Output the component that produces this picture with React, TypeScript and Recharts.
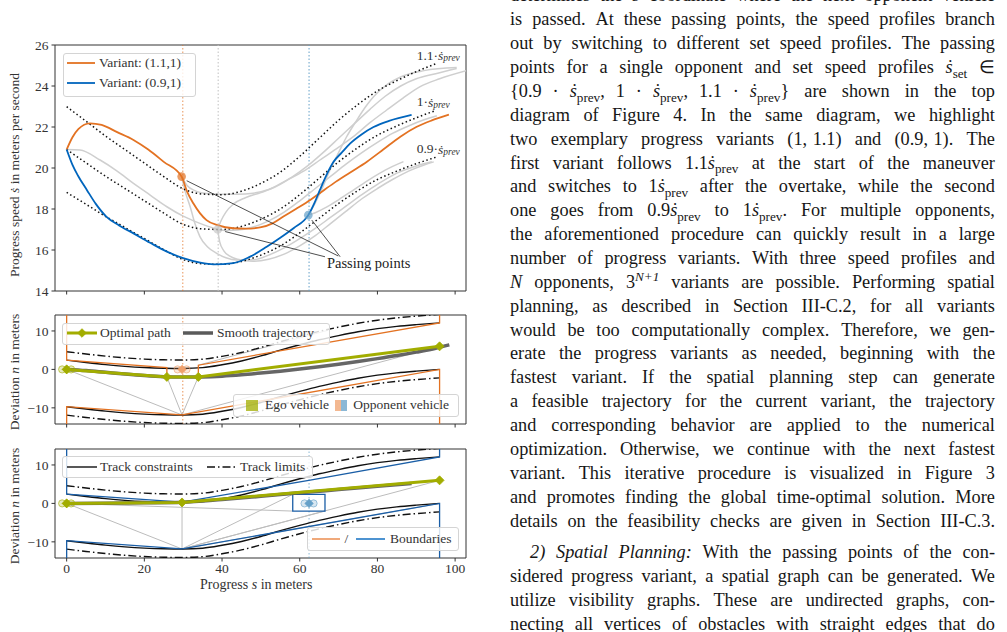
import React from 'react'
import { ComposedChart, Line, Scatter, XAxis, YAxis, ReferenceArea, ReferenceLine, ReferenceDot } from 'recharts'

const SERIF = '"Liberation Serif", "Times New Roman", serif'
const INK = '#333333'
const ORANGE = '#E37222'
const LIGHT_ORANGE = '#EFA06C'
const BLUE = '#0065BD'
const LIGHT_BLUE = '#64A0C8'
const OLIVE = '#A2AD00'
const CURVE_GRAY = '#cfcfcf'
const GRAPH_GRAY = '#bcbcbc'

// ---- top diagram: set speed profiles over progress ----
const PROFILE_S = [0, 5, 10, 15, 20, 25, 30, 35, 40, 45, 50, 55, 60, 65, 70, 75, 80, 85, 90, 95]
const PROFILE_11 = [22.99, 22.28, 21.56, 20.9, 20.24, 19.58, 18.98, 18.73, 18.7, 18.87, 19.25, 19.8, 20.57, 21.45, 22.33, 23.1, 23.76, 24.26, 24.7, 25.08]
const PROFILE_10 = [20.9, 20.25, 19.6, 19.0, 18.4, 17.8, 17.25, 17.03, 17.0, 17.15, 17.5, 18.0, 18.7, 19.5, 20.3, 21.0, 21.6, 22.05, 22.45, 22.8]
const PROFILE_09 = [18.81, 18.23, 17.64, 17.1, 16.56, 16.02, 15.53, 15.33, 15.3, 15.44, 15.75, 16.2, 16.83, 17.55, 18.27, 18.9, 19.44, 19.85, 20.21, 20.52]

const VARIANT_11_1 = [[0, 20.9], [1.5, 21.5], [3, 21.9], [6, 22.18], [9, 22.1], [13, 21.75], [17.2, 21.37], [21, 20.9], [25, 20.3], [29.6, 19.58], [31, 18.85], [32.6, 18.28], [34.3, 17.8], [36, 17.46], [39, 17.2], [42.9, 17.06], [46, 17.04], [49.8, 17.1], [53, 17.3], [55.8, 17.63], [59, 18.0], [62.7, 18.44], [65.5, 18.82], [68.7, 19.25], [73, 19.78], [77.3, 20.31], [81.5, 20.9], [85.9, 21.53], [90, 22.0], [94, 22.32], [98.4, 22.6]]
const VARIANT_09_1 = [[0, 20.9], [1.5, 20.15], [3, 19.6], [5.2, 18.93], [7.5, 18.25], [10.2, 17.63], [13.5, 17.2], [17.2, 16.81], [21.5, 16.35], [25.8, 15.92], [30, 15.6], [34.4, 15.38], [37.8, 15.3], [42.9, 15.36], [47, 15.65], [51.5, 16.16], [55, 16.6], [58.4, 17.06], [62.2, 17.7], [63.8, 18.3], [65.2, 18.93], [67, 19.7], [68.7, 20.3], [70.8, 20.75], [73, 21.2], [76, 21.65], [79, 22.0], [83, 22.3], [88.8, 22.59]]

// remaining progress variants (drawn in light gray)
const OTHER_VARIANTS = [
  [[0, 20.9], [3.4, 20.88], [8.6, 20.39], [13, 19.85], [17.2, 19.25], [21.5, 18.68], [25.8, 18.11], [30, 17.65], [34.3, 17.3], [38.9, 17.0]],
  [[29.6, 19.58], [31, 19.15], [33, 18.9], [36, 18.76], [40, 18.72], [44, 18.72], [48, 18.77], [52, 18.95], [56.7, 19.41], [61, 19.85], [65.2, 20.39], [69.5, 20.95], [73.8, 21.53], [78, 22.2], [82.4, 22.83], [86.5, 23.4], [91, 23.97], [96, 24.35], [103, 24.75]],
  [[29.6, 19.58], [30.6, 18.8], [31.8, 18.11], [33, 17.3], [34.3, 16.65], [36.3, 16.15], [38.6, 15.84], [41, 15.62], [43.8, 15.51], [48, 15.52], [52, 15.75], [56, 16.1], [60, 16.55], [64, 17.05], [68, 17.6], [72, 18.15], [76, 18.7], [80, 19.2], [85, 19.75], [90, 20.1], [94, 20.3]],
  [[38.9, 17.0], [39.8, 17.45], [41, 17.85], [43, 18.25], [46, 18.55], [50, 18.8], [54, 19.1], [58, 19.55], [62, 20.1], [66, 20.75], [70, 21.45], [74, 22.15], [78, 22.85], [82, 23.5], [86, 24.0], [90, 24.35], [95, 24.6], [100.4, 24.85]],
  [[38.9, 17.0], [41, 16.95], [44, 16.97], [48, 17.12], [52, 17.42], [56, 17.85], [60, 18.4], [64, 19.0], [68, 19.6], [72, 20.2], [76, 20.75], [80, 21.25], [84, 21.7], [88, 22.05], [92, 22.35], [95.3, 22.55]],
  [[38.9, 17.0], [39.4, 16.4], [40.5, 15.95], [42, 15.7], [44, 15.55], [48, 15.45], [52, 15.55], [56, 15.8], [60, 16.2], [64, 16.7], [68, 17.3], [72, 17.9], [76, 18.5], [80, 19.0], [84, 19.45], [88, 19.85], [92, 20.15], [94.5, 20.3]],
  [[62.2, 17.7], [64, 18.3], [66, 19.1], [67.8, 19.9], [70, 20.75], [72, 21.5], [74.7, 22.34], [77, 23.0], [79, 23.48], [82, 24.0], [86.7, 24.5], [92, 24.75], [100.4, 24.9]],
  [[62.2, 17.7], [64, 17.82], [67, 18.1], [70, 18.45], [74, 18.95], [78, 19.45], [82, 19.9], [86.7, 20.31]],
]

const PASSING_POINTS = [
  { s: 29.6, y: 19.58, color: ORANGE },
  { s: 38.9, y: 17.0, color: '#c8c8c8' },
  { s: 62.2, y: 17.7, color: LIGHT_BLUE },
]
const PASSING_S = [29.9, 39.0, 62.4]
const POINTER_LINES = [[30.9, 19.38, 69.9, 15.71], [40.8, 16.9, 66.5, 15.67], [63.1, 17.46, 70.4, 15.67]]

// ---- lower diagrams: track in curvilinear coordinates ----
const TRACK_S = [0, 5, 10, 15, 20, 25, 30, 35, 40, 45, 50, 55, 60, 65, 70, 75, 80, 85, 90, 96]
const CONSTRAINT_LEFT = [2.4, 1.8, 1.25, 0.8, 0.48, 0.3, 0.25, 0.45, 1.2, 2.2, 3.5, 5.0, 6.4, 7.7, 8.8, 9.8, 10.6, 11.2, 11.65, 12.1]
const CONSTRAINT_RIGHT = [-9.7, -10.3, -10.85, -11.3, -11.62, -11.8, -11.85, -11.65, -10.9, -9.9, -8.6, -7.1, -5.7, -4.4, -3.3, -2.3, -1.5, -0.9, -0.45, 0.0]
const LIMIT_LEFT = [4.6, 4.0, 3.45, 3.0, 2.68, 2.5, 2.45, 2.65, 3.4, 4.4, 5.7, 7.2, 8.6, 9.9, 11.0, 12.0, 12.8, 13.4, 13.85, 14.3]
const LIMIT_RIGHT = [-11.9, -12.5, -13.05, -13.5, -13.82, -14.0, -14.05, -13.85, -13.1, -12.1, -10.8, -9.3, -7.9, -6.6, -5.5, -4.5, -3.7, -3.1, -2.65, -2.2]

const OVERTAKE_BOUND_LEFT = [[0, 14.15], [0, 2.4], [25.8, 0.5], [25.8, -1.95], [33.9, -1.95], [33.9, 1.1], [96, 12.1], [96, 14.15]]
const OVERTAKE_BOUND_RIGHT = [[0, -14.2], [0, -9.7], [29.7, -11.85], [96, 0], [96, -14.2]]
const OVERTAKE_PATH = [[0, 0], [25.8, -1.95], [33.9, -1.95], [96, 6.0]]
const OVERTAKE_SMOOTH = [[0, 0], [5, -0.3], [10, -0.75], [15, -1.2], [20, -1.6], [25, -1.9], [30, -2.0], [35, -1.95], [40, -1.75], [45, -1.4], [50, -0.95], [55, -0.45], [60, 0.1], [65, 0.7], [70, 1.35], [75, 2.05], [80, 2.8], [85, 3.6], [90, 4.5], [95, 5.5], [98.5, 6.4]]
const OVERTAKE_GRAPH = [[0, 0, 29.7, -11.85], [25.8, -1.95, 29.7, -11.85], [33.9, -1.95, 29.7, -11.85], [29.7, -11.85, 96, 6.0], [33.9, 1.1, 67.4, 10.2]]

const FOLLOW_BOUND_LEFT = [[0, 14.15], [0, 2.4], [29.7, 0.35], [62.7, 6.05], [96, 12.1], [96, 14.15]]
const FOLLOW_BOUND_RIGHT = [[0, -14.2], [0, -9.7], [29.7, -11.85], [96, 0], [96, -14.2]]
const FOLLOW_OBSTACLE = [[58.2, 2.34], [66.5, 2.34], [66.5, -2.0], [58.2, -2.0], [58.2, 2.34]]
const FOLLOW_PATH = [[0, 0], [29.7, 0.25], [96, 6.0]]
const FOLLOW_SMOOTH = [[0, 0], [10, 0.05], [20, 0.15], [29.7, 0.3], [40, 1.0], [50, 1.85], [60, 2.75], [70, 3.6], [80, 4.45], [88.8, 5.2]]
const FOLLOW_GRAPH = [[0, 0, 29.7, -11.85], [29.7, 0.3, 29.7, -11.85], [0, 0, 58.2, -2.0], [29.7, -11.85, 58.2, 2.34], [29.7, -11.85, 66.5, -2.0], [29.7, -11.85, 96, 6.0], [29.7, -11.85, 96, 0], [29.7, 0.3, 58.2, 2.34]]

const S_TICKS = [0, 20, 40, 60, 80, 100]
const SPEED_TICKS = [14, 16, 18, 20, 22, 24, 26]
const N_TICKS = [-10, 0, 10]
const S_DOMAIN: [number, number] = [-3.0, 102.8]
const SPEED_DOMAIN: [number, number] = [14, 26]
const N_DOMAIN: [number, number] = [-14.2, 14.15]

// ---- body text of the right column ----
// "~" is a fixed math space, "*x*" italic, "$x$" math italic, "ṡ_x" dotted s with subscript, "^{x}" superscript
const TEXT_LINES = [
  'determines the $s$ coordinate where the next opponent vehicle',
  'is passed. At these passing points, the speed profiles branch',
  'out by switching to different set speed profiles. The passing',
  'points for a single opponent and set speed profiles ṡ_set ∈',
  '{0.9~~·~~ṡ_prev,~~1~~·~~ṡ_prev,~~1.1~~·~~ṡ_prev} are shown in the top',
  'diagram of Figure 4. In the same diagram, we highlight',
  'two exemplary progress variants (1,~1.1) and (0.9,~1). The',
  'first variant follows 1.1ṡ_prev at the start of the maneuver',
  'and switches to 1ṡ_prev after the overtake, while the second',
  'one goes from 0.9ṡ_prev to 1ṡ_prev. For multiple opponents,',
  'the aforementioned procedure can quickly result in a large',
  'number of progress variants. With three speed profiles and',
  '$N$ opponents, 3^{N+1} variants are possible. Performing spatial',
  'planning, as described in Section III-C.2, for all variants',
  'would be too computationally complex. Therefore, we gen-',
  'erate the progress variants as needed, beginning with the',
  'fastest variant. If the spatial planning step can generate',
  'a feasible trajectory for the current variant, the trajectory',
  'and corresponding behavior are applied to the numerical',
  'optimization. Otherwise, we continue with the next fastest',
  'variant. This iterative procedure is visualized in Figure 3',
  'and promotes finding the global time-optimal solution. More',
  'details on the feasibility checks are given in Section III-C.3.',
  '*2)* *Spatial* *Planning:* With the passing points of the con-',
  'sidered progress variant, a spatial graph can be generated. We',
  'utilize visibility graphs. These are undirected graphs, con-',
  'necting all vertices of obstacles with straight edges that do',
]
const PARAGRAPH_START = 23

type Pt = { s: number; y: number }
const pairs = (list: number[][]): Pt[] => list.map(([s, y]) => ({ s, y }))
const zip = (xs: number[], ys: number[]): Pt[] => xs.map((s, i) => ({ s, y: ys[i] }))
const segment = ([s1, y1, s2, y2]: number[]): Pt[] => [{ s: s1, y: y1 }, { s: s2, y: y2 }]

const axisFont = { fontFamily: SERIF, fontSize: 13.5, fill: INK }
const minus = (v: number) => (v < 0 ? `\u2212${-v}` : `${v}`)

function curve(key: string, data: Pt[], stroke: string, width: number, opts: { dash?: string; type?: 'linear' | 'monotone'; opacity?: number; dot?: any } = {}) {
  return (
    <Line
      key={key}
      data={data}
      dataKey="y"
      type={opts.type ?? 'monotone'}
      stroke={stroke}
      strokeWidth={width}
      strokeDasharray={opts.dash}
      strokeOpacity={opts.opacity ?? 1}
      dot={opts.dot ?? false}
      activeDot={false}
      legendType="none"
      isAnimationActive={false}
    />
  )
}

const Diamond = ({ cx, cy, r = 4.5, fill }: { cx: number; cy: number; r?: number; fill: string }) => (
  <path d={`M${cx},${cy - r}L${cx + r},${cy}L${cx},${cy + r}L${cx - r},${cy}Z`} fill={fill} stroke={fill} strokeWidth={0.8} />
)
const pathDot = (p: any) => <Diamond key={`d${p.index}`} cx={p.cx} cy={p.cy} fill={OLIVE} />

// vehicle drawn as a small translucent marker cluster
const vehicleShape = (color: string) => (p: any) => (
  <g>
    <circle cx={p.cx - 4.5} cy={p.cy} r={3.6} fill={color} fillOpacity={0.25} stroke={color} strokeOpacity={0.6} />
    <circle cx={p.cx + 4.5} cy={p.cy} r={3.6} fill={color} fillOpacity={0.25} stroke={color} strokeOpacity={0.6} />
    <Diamond cx={p.cx} cy={p.cy} r={4.2} fill={color} />
  </g>
)

const passingShape = (p: any) => <circle cx={p.cx} cy={p.cy} r={4.3} fill={p.payload.color} fillOpacity={0.7} />

const SpeedLabel = (p: any) => {
  const { x, y } = p.viewBox
  return (
    <text x={x} y={y} dominantBaseline="central" fontFamily={SERIF} fontSize={13.5} fill={INK}>
      {p.factor}·<tspan fontStyle="italic">ṡ</tspan>
      <tspan fontStyle="italic" fontSize={9.5} dy={3}>prev</tspan>
    </text>
  )
}

const PlainLabel = (p: any) => {
  const { x, y } = p.viewBox
  return (
    <text x={x} y={y} dominantBaseline="central" fontFamily={SERIF} fontSize={14.5} fill="#222">
      {p.text}
    </text>
  )
}

function frame(y: [number, number]) {
  return <ReferenceArea x1={S_DOMAIN[0]} x2={S_DOMAIN[1]} y1={y[0]} y2={y[1]} fill="none" stroke={INK} strokeWidth={1} ifOverflow="visible" />
}

function SpeedPanel() {
  return (
    <ComposedChart width={480} height={300} margin={{ top: 45, right: 14, bottom: 0, left: 0 }}>
      <XAxis type="number" dataKey="s" domain={S_DOMAIN} ticks={S_TICKS} allowDataOverflow axisLine={false} tickLine={{ stroke: INK }} tickSize={3.5} tickFormatter={() => ''} height={9} />
      <YAxis type="number" domain={SPEED_DOMAIN} ticks={SPEED_TICKS} allowDataOverflow axisLine={false} tickLine={{ stroke: INK }} tickSize={3.5} tickMargin={3} tick={axisFont} width={55} />
      {frame(SPEED_DOMAIN)}
      <ReferenceLine x={PASSING_S[0]} stroke={ORANGE} strokeOpacity={0.75} strokeDasharray="1.5 2" />
      <ReferenceLine x={PASSING_S[1]} stroke="#c0c0c0" strokeDasharray="1.5 2" />
      <ReferenceLine x={PASSING_S[2]} stroke={LIGHT_BLUE} strokeDasharray="1.5 2" />
      {OTHER_VARIANTS.map((v, i) => curve(`g${i}`, pairs(v), CURVE_GRAY, 1.5))}
      {curve('p11', zip(PROFILE_S, PROFILE_11), '#111', 1.5, { dash: '1.5 2.6' })}
      {curve('p10', zip(PROFILE_S, PROFILE_10), '#111', 1.5, { dash: '1.5 2.6' })}
      {curve('p09', zip(PROFILE_S, PROFILE_09), '#111', 1.5, { dash: '1.5 2.6' })}
      {curve('v111', pairs(VARIANT_11_1), ORANGE, 1.8)}
      {curve('v091', pairs(VARIANT_09_1), BLUE, 1.8)}
      {POINTER_LINES.map((l, i) => curve(`ptr${i}`, segment(l), '#222', 0.8, { type: 'linear' }))}
      <Scatter data={PASSING_POINTS} dataKey="y" shape={passingShape} isAnimationActive={false} legendType="none" />
      <ReferenceDot x={90.1} y={25.5} r={0} fill="none" stroke="none" ifOverflow="visible" label={(p: any) => <SpeedLabel {...p} factor="1.1" />} />
      <ReferenceDot x={90.1} y={23.23} r={0} fill="none" stroke="none" ifOverflow="visible" label={(p: any) => <SpeedLabel {...p} factor="1" />} />
      <ReferenceDot x={90.1} y={20.95} r={0} fill="none" stroke="none" ifOverflow="visible" label={(p: any) => <SpeedLabel {...p} factor="0.9" />} />
      <ReferenceDot x={67.0} y={15.35} r={0} fill="none" stroke="none" ifOverflow="visible" label={(p: any) => <PlainLabel {...p} text="Passing points" />} />
    </ComposedChart>
  )
}

function TrackLines() {
  return [
    curve('ll', zip(TRACK_S, LIMIT_LEFT), '#111', 1.4, { dash: '8 3 1.5 3' }),
    curve('lr', zip(TRACK_S, LIMIT_RIGHT), '#111', 1.4, { dash: '8 3 1.5 3' }),
    curve('cl', zip(TRACK_S, CONSTRAINT_LEFT), '#111', 1.4),
    curve('cr', zip(TRACK_S, CONSTRAINT_RIGHT), '#111', 1.4),
  ]
}

function DeviationPanel(props: {
  height: number
  top: number
  axisHeight: number
  showLabels: boolean
  boundColor: string
  boundLeft: number[][]
  boundRight: number[][]
  obstacle?: number[][]
  graph: number[][]
  path: number[][]
  smooth: number[][]
  marker: number
  markerColor: string
  opponentS: number
  opponentColor: string
}) {
  const p = props
  return (
    <ComposedChart width={480} height={p.height} margin={{ top: p.top, right: 14, bottom: 0, left: 0 }}>
      <XAxis type="number" dataKey="s" domain={S_DOMAIN} ticks={S_TICKS} allowDataOverflow axisLine={false} tickLine={{ stroke: INK }} tickSize={3.5} tickMargin={2} tick={axisFont} tickFormatter={p.showLabels ? (v: number) => `${v}` : () => ''} height={p.axisHeight} />
      <YAxis type="number" domain={N_DOMAIN} ticks={N_TICKS} allowDataOverflow axisLine={false} tickLine={{ stroke: INK }} tickSize={3.5} tickMargin={3} tick={axisFont} tickFormatter={minus} width={55} />
      {frame(N_DOMAIN)}
      <ReferenceLine x={p.marker} stroke={p.markerColor} strokeOpacity={0.75} strokeDasharray="1.5 2" />
      {p.graph.map((l, i) => curve(`vg${i}`, segment(l), GRAPH_GRAY, 1, { type: 'linear' }))}
      {TrackLines()}
      {curve('bl', pairs(p.boundLeft), p.boundColor, 1.3, { type: 'linear' })}
      {curve('br', pairs(p.boundRight), p.boundColor, 1.3, { type: 'linear' })}
      {p.obstacle ? curve('ob', pairs(p.obstacle), p.boundColor, 1.3, { type: 'linear' }) : null}
      {curve('sm', pairs(p.smooth), '#555', 3.5, { opacity: 0.9 })}
      {curve('op', pairs(p.path), OLIVE, 3, { type: 'linear', dot: pathDot })}
      <Scatter data={[{ s: 0, y: 0 }]} dataKey="y" shape={vehicleShape(OLIVE)} isAnimationActive={false} legendType="none" />
      <Scatter data={[{ s: p.opponentS, y: 0 }]} dataKey="y" shape={vehicleShape(p.opponentColor)} isAnimationActive={false} legendType="none" />
    </ComposedChart>
  )
}

// ---- overlays: axis titles and legends ----
const box = (x: number, y: number, w: number, h: number): React.CSSProperties => ({
  position: 'absolute', left: x, top: y, width: w, height: h, border: '1px solid #d4d4d4', borderRadius: 3,
  background: 'rgba(255,255,255,0.82)', boxSizing: 'border-box',
})
const label = (x: number, cy: number): React.CSSProperties => ({
  position: 'absolute', left: x, top: cy - 9, height: 18, lineHeight: '18px', fontFamily: SERIF, fontSize: 13.5, color: INK, whiteSpace: 'nowrap',
})

function Swatch({ x, cy, w = 29, color, width = 1.8, dash, diamond }: { x: number; cy: number; w?: number; color: string; width?: number; dash?: string; diamond?: boolean }) {
  return (
    <svg style={{ position: 'absolute', left: x, top: cy - 6 }} width={w} height={12}>
      <line x1={0} y1={6} x2={w} y2={6} stroke={color} strokeWidth={width} strokeDasharray={dash} />
      {diamond && <Diamond cx={w / 2} cy={6} r={4.3} fill={color} />}
    </svg>
  )
}

function Patch({ x, cy, colors }: { x: number; cy: number; colors: string[] }) {
  const w = 12 / colors.length
  return (
    <svg style={{ position: 'absolute', left: x, top: cy - 5.5 }} width={12} height={11}>
      {colors.map((c, i) => <rect key={i} x={i * w} y={0} width={w} height={11} fill={c} fillOpacity={0.75} />)}
    </svg>
  )
}

function AxisTitle({ x, cy, children }: { x: number; cy: number; children: React.ReactNode }) {
  return (
    <div style={{ position: 'absolute', left: x, top: cy, transform: 'translate(-50%, -50%) rotate(-90deg)', fontFamily: SERIF, fontSize: 13.5, color: INK, whiteSpace: 'nowrap' }}>
      {children}
    </div>
  )
}

function Overlays() {
  return (
    <>
      <AxisTitle x={15} cy={175}>Progress speed <i>ṡ</i> in meters per second</AxisTitle>
      <AxisTitle x={15} cy={372}>Deviation <i>n</i> in meters</AxisTitle>
      <AxisTitle x={15} cy={506}>Deviation <i>n</i> in meters</AxisTitle>
      <div style={{ ...label(200, 585), fontSize: 14 }}>Progress <i>s</i> in meters</div>

      <div style={box(63, 52.5, 133, 44)} />
      <Swatch x={67} cy={62.7} w={28} color={ORANGE} />
      <div style={label(99, 62.7)}>Variant: (1.1,1)</div>
      <Swatch x={67} cy={83.3} w={28} color={BLUE} />
      <div style={label(99, 83.3)}>Variant: (0.9,1)</div>

      <div style={box(61.7, 322.5, 268, 22.5)} />
      <Swatch x={66.7} cy={333} w={30} color={OLIVE} width={3} diamond />
      <div style={label(100, 333)}>Optimal path</div>
      <Swatch x={183.3} cy={333} w={30} color="#5a5a5a" width={3.5} />
      <div style={label(217, 333)}>Smooth trajectory</div>

      <div style={box(233.3, 394, 226, 22.7)} />
      <Patch x={246} cy={405.3} colors={[OLIVE]} />
      <div style={label(265, 405.3)}>Ego vehicle</div>
      <Patch x={334.5} cy={405.3} colors={[LIGHT_ORANGE, LIGHT_BLUE]} />
      <div style={label(353.3, 405.3)}>Opponent vehicle</div>

      <div style={box(61.7, 456, 251.6, 22.3)} />
      <Swatch x={66.7} cy={466.7} w={30} color="#111" width={1.4} />
      <div style={label(100, 466.7)}>Track constraints</div>
      <Swatch x={206.7} cy={466.7} w={30} color="#111" width={1.4} dash="8 3 1.5 3" />
      <div style={label(240, 466.7)}>Track limits</div>

      <div style={box(306.7, 527.3, 152.6, 23.4)} />
      <Swatch x={311.7} cy={539} w={28.3} color={LIGHT_ORANGE} />
      <div style={label(344.5, 539)}>/</div>
      <Swatch x={356} cy={539} w={29} color={BLUE} width={1.4} />
      <div style={label(390, 539)}>Boundaries</div>
    </>
  )
}

// ---- right-hand text column ----
const INLINE = /(ṡ_[a-z]+|\$[^$]+\$|\^\{[^}]+\}|\*[^*]+\*|~)/g
function inline(token: string) {
  return token.split(INLINE).filter(Boolean).map((part, i) => {
    if (part === '~') return <span key={i} style={{ display: 'inline-block', width: '0.3em' }} />
    if (part.startsWith('ṡ_'))
      return (
        <span key={i}>
          <i>ṡ</i>
          <span style={{ fontSize: '0.72em', position: 'relative', top: '0.35em' }}>{part.slice(2)}</span>
        </span>
      )
    if (part.startsWith('$') || part.startsWith('*')) return <i key={i}>{part.slice(1, -1)}</i>
    if (part.startsWith('^{'))
      return <span key={i} style={{ fontSize: '0.72em', fontStyle: 'italic', position: 'relative', top: '-0.55em' }}>{part.slice(2, -1)}</span>
    return <React.Fragment key={i}>{part}</React.Fragment>
  })
}

function TextColumn() {
  const step = 23.87
  return (
    <>
      {TEXT_LINES.map((line, i) => {
        const cy = i < PARAGRAPH_START ? 20.3 + (i - 1) * step : 553 + (i - PARAGRAPH_START) * step
        const indent = i === PARAGRAPH_START ? 20 : 0
        return (
          <div key={i} style={{
            position: 'absolute', left: 510 + indent, width: 485 - indent, top: cy - 13, height: 24, lineHeight: '24px',
            display: 'flex', justifyContent: 'space-between', whiteSpace: 'pre', fontFamily: SERIF, fontSize: 18.3, color: '#161616',
          }}>
            {line.split(' ').map((w, j) => <span key={j}>{inline(w)}</span>)}
          </div>
        )
      })}
    </>
  )
}

export default function App() {
  return (
    <div style={{ position: 'fixed', left: 0, top: 0, width: 1007, height: 632, overflow: 'hidden', background: '#fff' }}>
      <div style={{ position: 'absolute', left: 0, top: 0 }}>
        <SpeedPanel />
      </div>
      <div style={{ position: 'absolute', left: 0, top: 300 }}>
        <DeviationPanel height={130} top={15} axisHeight={6} showLabels={false} boundColor={ORANGE}
          boundLeft={OVERTAKE_BOUND_LEFT} boundRight={OVERTAKE_BOUND_RIGHT} graph={OVERTAKE_GRAPH}
          path={OVERTAKE_PATH} smooth={OVERTAKE_SMOOTH} marker={PASSING_S[0]} markerColor={ORANGE}
          opponentS={29.7} opponentColor={LIGHT_ORANGE} />
      </div>
      <div style={{ position: 'absolute', left: 0, top: 440 }}>
        <DeviationPanel height={160} top={9} axisHeight={42} showLabels boundColor="#1a5ea6"
          boundLeft={FOLLOW_BOUND_LEFT} boundRight={FOLLOW_BOUND_RIGHT} obstacle={FOLLOW_OBSTACLE} graph={FOLLOW_GRAPH}
          path={FOLLOW_PATH} smooth={FOLLOW_SMOOTH} marker={PASSING_S[2]} markerColor={LIGHT_BLUE}
          opponentS={62.4} opponentColor={LIGHT_BLUE} />
      </div>
      <Overlays />
      <TextColumn />
    </div>
  )
}
